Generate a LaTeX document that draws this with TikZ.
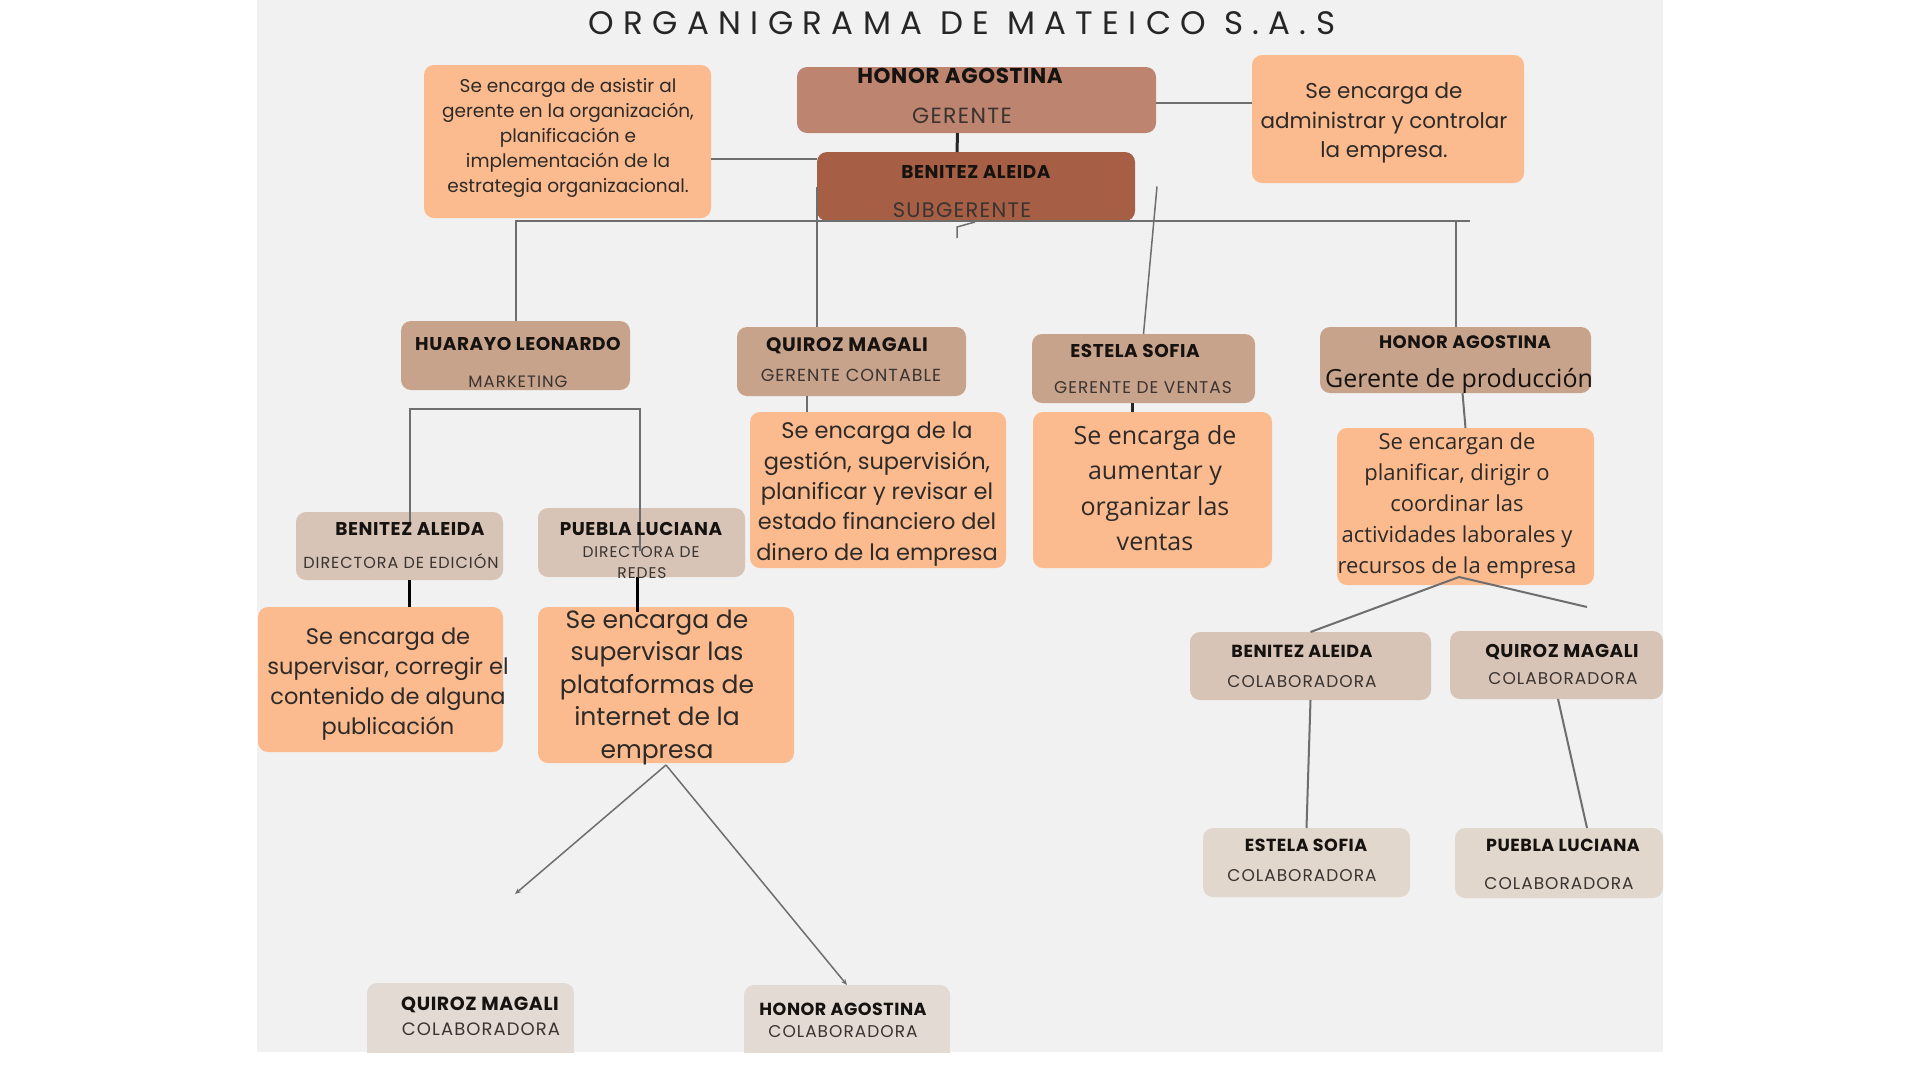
\documentclass[tikz,border=0pt]{standalone}
\usepackage{fontspec}
\setmainfont{Poppins}
\newfontfamily\osans{Open Sans}
\usetikzlibrary{arrows.meta,calc}
\definecolor{panelc}{HTML}{F1F1F1}
\definecolor{gerc}{HTML}{BD8570}
\definecolor{subc}{HTML}{A65F45}
\definecolor{tanc}{HTML}{C8A38C}
\definecolor{lighta}{HTML}{D7C4B6}
\definecolor{lightb}{HTML}{E1D7CD}
\definecolor{lightc}{HTML}{E3DBD3}
\definecolor{peachc}{HTML}{FCBB8F}
\definecolor{namec}{HTML}{161210}
\definecolor{rolec}{HTML}{3A3330}
\definecolor{linec}{HTML}{6E6E6E}
\definecolor{darkc}{HTML}{262626}
\newcommand\nmf[1]{\fontsize{#1}{#1}\selectfont\bfseries\addfontfeatures{LetterSpace=3}}
\newcommand\rlf[1]{\fontsize{#1}{#1}\selectfont\addfontfeatures{LetterSpace=6}}
\newcommand\dsf[2]{\fontsize{#1}{#2}\selectfont}
\newcommand\osf[2]{\osans\fontsize{#1}{#2}\selectfont}
\newcommand\bx[6]{\node[box,fill=#6,minimum width={(#4-#2)*1pt},minimum height={(#5-#3)*1pt}] (#1) at ({(#2+#4)/2},{(#3+#5)/2}) {};}
\begin{document}
\begin{tikzpicture}[x=1pt,y=-1pt,
  box/.style={rectangle,rounded corners=10pt,draw=none,inner sep=0pt,outer sep=0pt},
  lab/.style={inner sep=0pt,anchor=base,text=namec},
  role/.style={inner sep=0pt,anchor=base,text=rolec},
  desc/.style={inner sep=0pt,align=center,text=namec!90!white},
  gl/.style={draw=linec,line width=2pt},
  tl/.style={draw=linec,line width=1.5pt},
  dl/.style={draw=darkc,line width=3pt},
  tip/.style={-{Stealth[length=6pt,width=5pt]}}]
\useasboundingbox (0,0) rectangle (1920,1080);
\fill[white] (0,0) rectangle (1920,1080);
\fill[panelc] (257,0) rectangle (1663,1052);
\begin{scope}
\clip (257,0) rectangle (1663,1052);
% boxes
\bx{ger}{797}{67}{1156}{133}{gerc}
\bx{sub}{817}{152}{1135}{221}{subc}
\bx{asist}{424}{65}{711}{218}{peachc}
\bx{admin}{1252}{55}{1524}{183}{peachc}
\bx{mkt}{401}{321}{630}{390}{tanc}
\bx{qc}{737}{327}{966}{396}{tanc}
\bx{es}{1032}{334}{1255}{403}{tanc}
\bx{prod}{1320}{327}{1591}{393}{tanc}
\bx{qd}{750}{412}{1006}{568}{peachc}
\bx{ed}{1033}{412}{1272}{568}{peachc}
\bx{prodd}{1337}{428}{1594}{585}{peachc}
\bx{bd}{296}{512}{503}{580}{lighta}
\bx{pd}{538}{508}{745}{577}{lighta}
\bx{bdd}{258}{607}{503}{752}{peachc}
\bx{pdd}{538}{607}{794}{763}{peachc}
\bx{bc}{1190}{632}{1431}{700}{lighta}
\bx{qcol}{1450}{631}{1663}{699}{lighta}
\bx{ec}{1203}{828}{1410}{897}{lightb}
\bx{pc}{1455}{828}{1663}{898}{lightb}
\bx{qb}{367}{983}{574}{1064}{lightc}
\bx{hb}{744}{985}{950}{1064}{lightc}
% junction coordinates
\coordinate (j1) at (817,159);
\coordinate (j2) at ([yshift=-3pt]ger.east);
\coordinate (barR) at (1470,220.5);
\coordinate (tk1) at (957,238);
\coordinate (tk2) at (957,227);
\coordinate (tk3) at (975,222);
\coordinate (brL) at (410,527);
\coordinate (brR) at (640,551);
\coordinate (apexA) at (1459,577);
\coordinate (freeA) at (1587,607);
\coordinate (apexB) at (666,765);
\coordinate (freeB) at (515,894);
\coordinate (qdTop) at ([xshift=-45pt]qc.south |- qd.north);
\coordinate (edTop) at ([xshift=-11pt]es.south |- ed.north);
\coordinate (bddTop) at ([xshift=9.5pt]bd.south |- bdd.north);
% connectors
\draw[dl] ([xshift=-19pt]ger.south) -- ([xshift=-19pt]sub.north);
\draw[gl] (asist.east |- j1) -- (j1);
\draw[gl] (j2) -- (admin.west |- j2);
\draw[gl] (mkt.north) |- (barR);
\draw[gl] (prod.north) -- (prod.north |- barR);
\draw[gl] (sub.west) -- (sub.west |- qc.north);
\draw[tl] ([xshift=22pt]sub.east) -- (es.north);
\draw[tl] (tk1) -- (tk2) -- (tk3);
\draw[gl] ([xshift=-45pt]qc.south) -- (qdTop);
\draw[dl,line width=2.5pt] ([xshift=-11pt]es.south) -- (edTop);
\draw[gl] ([xshift=7pt]prod.south) -- (prodd.north);
\draw[gl] (bc.north) -- (apexA) -- (freeA);
\draw[gl] (bc.south) -- (ec.north);
\draw[gl] ([xshift=1.5pt]qcol.south) -- ([xshift=28pt]pc.north);
\draw[gl] (brL) -- ++(0,-118) -| (brR);
\draw[dl,draw=black] ([xshift=9.5pt]bd.south) -- (bddTop);
\draw[dl,draw=black] ([xshift=-4.5pt]pd.south) -- ([xshift=-4.5pt,yshift=-35pt]pd.south);
\draw[tl,tip] (apexB) -- (freeB);
\draw[tl,tip] (apexB) -- (hb.north);
% title
\node[lab,text=black!85] (title) at (962,34) {\fontsize{32.5}{32.5}\selectfont\addfontfeatures{LetterSpace=28.7}ORGANIGRAMA DE MATEICO S.A.S};
% names and roles
\node[lab] (n1) at (960,83) {\nmf{21.5}HONOR AGOSTINA};
\node[role] (r1) at (962,123) {\rlf{22}GERENTE};
\node[lab] (n2) at (976,178) {\nmf{18.5}BENITEZ ALEIDA};
\node[role] (r2) at (962,217) {\rlf{21}SUBGERENTE};
\node[lab] (n3) at (518,350) {\nmf{18.5}HUARAYO LEONARDO};
\node[role] (r3) at (518,387) {\rlf{16.5}MARKETING};
\node[lab] (n4) at (847,351) {\nmf{19.5}QUIROZ MAGALI};
\node[role] (r4) at (851,381) {\rlf{17.5}GERENTE CONTABLE};
\node[lab] (n5) at (1135,357) {\nmf{18.5}ESTELA SOFIA};
\node[role] (r5) at (1143,393) {\rlf{17}GERENTE DE VENTAS};
\node[lab] (n6) at (1465,348) {\nmf{18}HONOR AGOSTINA};
\node[lab] (r6) at (1459,387) {\osf{25}{25}Gerente de producción};
\node[lab] (n7) at (410,535) {\nmf{18.5}BENITEZ ALEIDA};
\node[role] (r7) at (401,568) {\rlf{16}DIRECTORA DE EDICIÓN};
\node[lab] (n8) at (641,535) {\nmf{18.5}PUEBLA LUCIANA};
\node[role] (r8) at (641,557) {\rlf{15.5}DIRECTORA DE};
\node[role] (r8b) at (642,578) {\rlf{15.5}REDES};
\node[lab] (n9) at (1302,657) {\nmf{17.5}BENITEZ ALEIDA};
\node[role] (r9) at (1302,687) {\rlf{17}COLABORADORA};
\node[lab] (n10) at (1562,657) {\nmf{18.5}QUIROZ MAGALI};
\node[role] (r10) at (1563,684) {\rlf{17}COLABORADORA};
\node[lab] (n11) at (1306,851) {\nmf{17.5}ESTELA SOFIA};
\node[role] (r11) at (1302,881) {\rlf{17}COLABORADORA};
\node[lab] (n12) at (1563,851) {\nmf{17.5}PUEBLA LUCIANA};
\node[role] (r12) at (1559,889) {\rlf{17}COLABORADORA};
\node[lab] (n13) at (480,1010) {\nmf{19}QUIROZ MAGALI};
\node[role] (r13) at (481,1035) {\rlf{18}COLABORADORA};
\node[lab] (n14) at (843,1015) {\nmf{17.5}HONOR AGOSTINA};
\node[role] (r14) at (843,1037) {\rlf{17}COLABORADORA};
% descriptions
\node[desc,font=\dsf{18.5}{25}] (d1) at (568,138) {Se encarga de asistir al\\gerente en la organización,\\planificación e\\implementación de la\\estrategia organizacional.};
\node[desc,font=\dsf{21.5}{29.5}] (d2) at (1384,123) {Se encarga de\\administrar y controlar\\la empresa.};
\node[desc,font=\dsf{22.5}{30.3}] (d3) at (877,494) {Se encarga de la\\gestión, supervisión,\\planificar y revisar el\\estado financiero del\\dinero de la empresa};
\node[desc,font=\osf{25}{35.3}] (d4) at (1155,488) {Se encarga de\\aumentar y\\organizar las\\ventas};
\node[desc,font=\osf{22}{31}] (d5) at (1457,506) {Se encargan de\\planificar, dirigir o\\coordinar las\\actividades laborales y\\recursos de la empresa};
\node[desc,font=\dsf{22.5}{30.2}] (d6) at (388,684) {Se encarga de\\supervisar, corregir el\\contenido de alguna\\publicación};
\node[desc,font=\dsf{25}{32.5}] (d7) at (657,687) {Se encarga de\\supervisar las\\plataformas de\\internet de la\\empresa};
\end{scope}
\end{tikzpicture}
\end{document}
